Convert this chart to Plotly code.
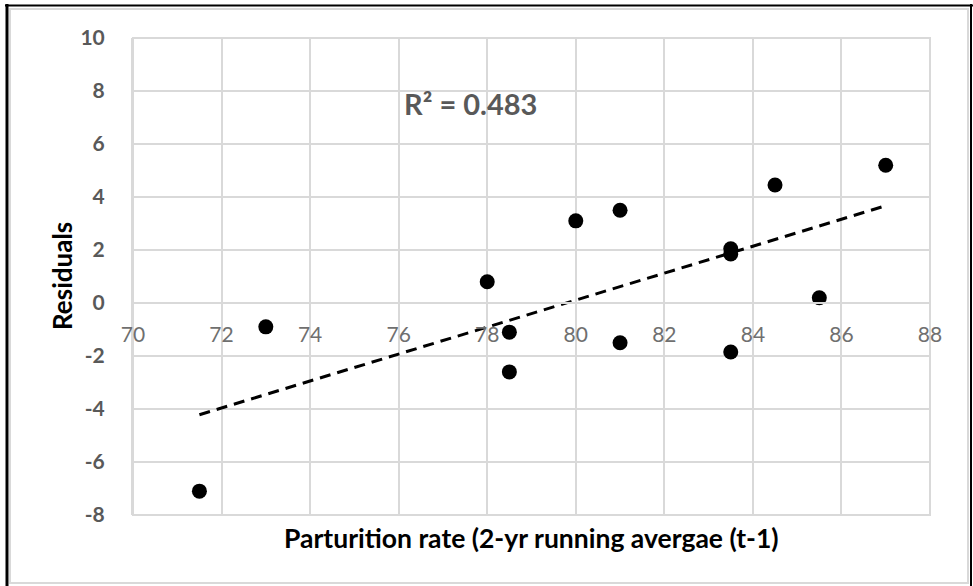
"""scatter of residuals against parturition rate with a linear trendline"""

import numpy as np
import plotly.graph_objects as go

# parturition rate (2-yr running average, t-1) and model residuals
parturition = [71.5, 73, 78, 78.5, 78.5, 80, 81, 81, 83.5, 83.5, 83.5, 84.5, 85.5, 87]
residuals = [-7.1, -0.9, 0.8, -1.1, -2.6, 3.1, 3.5, -1.5, 2.05, 1.85, -1.85, 4.45, 0.2, 5.2]

x_ticks = [70, 72, 74, 76, 78, 80, 82, 84, 86, 88]
y_ticks = [-8, -6, -4, -2, 0, 2, 4, 6, 8, 10]
y_tick_text = ["-8", "-6", "-4", "-2", "0", "2", "4", "6", "8", "10"]
r2_text = "R² = 0.483"
x_title = "Parturition rate (2-yr running avergae (t-1)"
y_title = "Residuals"

FONT = "Lato"
GREY_TXT = "#595959"
GRID = "#d9d9d9"

# plot area in pixels: left 133, right 930, top 38, bottom 515
L, R, T, B = 133, 930, 38, 515


def px(x):
    return (x - L) / (R - L)


def py(y):
    return (B - y) / (B - T)


# least squares trendline across the data
slope, intercept = np.polyfit(parturition, residuals, 1)
trend_x = [min(parturition), max(parturition)]
trend_y = [slope * v + intercept for v in trend_x]

fig = go.Figure()

fig.add_trace(
    go.Scatter(
        x=trend_x,
        y=trend_y,
        mode="lines",
        line=dict(color="black", width=3, dash="11px,7px"),
        hoverinfo="skip",
    )
)

fig.add_trace(
    go.Scatter(
        x=parturition,
        y=residuals,
        mode="markers",
        marker=dict(color="black", size=15),
        cliponaxis=False,
    )
)

fig.update_layout(
    width=973,
    height=586,
    margin=dict(l=L, r=973 - R, t=T, b=586 - B),
    plot_bgcolor="white",
    paper_bgcolor="white",
    showlegend=False,
    font=dict(family=FONT),
)

# x axis sits on the zero line, as in the original
fig.update_xaxes(
    range=[70, 88],
    tickvals=x_ticks,
    showgrid=True,
    gridcolor=GRID,
    gridwidth=2,
    zeroline=False,
    showline=True,
    linecolor=GRID,
    linewidth=2,
    anchor="free",
    position=py(303),
    ticks="",
    ticklabelstandoff=13,
    tickfont=dict(size=21, color="#6f6f6f", family=FONT),
)

fig.update_yaxes(
    range=[-8, 10],
    tickvals=y_ticks,
    ticktext=y_tick_text,
    showgrid=True,
    gridcolor=GRID,
    gridwidth=2,
    zeroline=False,
    showline=True,
    linecolor=GRID,
    linewidth=2,
    ticks="",
    ticklabelstandoff=22,
    tickfont=dict(size=21, color=GREY_TXT, family=FONT, weight="bold"),
)

shapes = [
    # plot area border
    dict(type="rect", xref="paper", yref="paper", x0=0, x1=1, y0=0, y1=1,
         line=dict(color=GRID, width=2), layer="below"),
    # chart area border
    dict(type="rect", xref="paper", yref="paper", x0=px(10), x1=px(968), y0=py(583), y1=py(9),
         line=dict(color=GRID, width=2), layer="below"),
    # black frame round the picture
    dict(type="line", xref="paper", yref="paper", x0=px(7), x1=px(7), y0=py(4), y1=py(590),
         line=dict(color="black", width=3)),
    dict(type="line", xref="paper", yref="paper", x0=px(5), x1=px(973), y0=py(5.5), y1=py(5.5),
         line=dict(color="black", width=2)),
    dict(type="line", xref="paper", yref="paper", x0=px(971), x1=px(971), y0=py(4), y1=py(590),
         line=dict(color="black", width=2)),
]
fig.update_layout(shapes=shapes)

fig.add_annotation(
    text=f"<b>{x_title}</b>", xref="paper", yref="paper", x=0.5, y=py(538),
    xanchor="center", yanchor="middle",
    showarrow=False, font=dict(size=26.5, color="black", family=FONT),
)
fig.add_annotation(
    text=f"<b>{y_title}</b>", xref="paper", yref="paper", x=px(62), y=py(276),
    xanchor="center", yanchor="middle",
    textangle=-90, showarrow=False, font=dict(size=26, color="black", family=FONT),
)
fig.add_annotation(
    text=f"<b>{r2_text}</b>", xref="paper", yref="paper", x=px(470), y=py(103),
    xanchor="center", yanchor="middle",
    showarrow=False, font=dict(size=29, color=GREY_TXT, family=FONT),
)

# drop the default page margin so the figure starts at the window corner
fig.write_html(
    "out.html",
    config={"displayModeBar": False},
    post_script="document.body.style.margin='0';",
)
